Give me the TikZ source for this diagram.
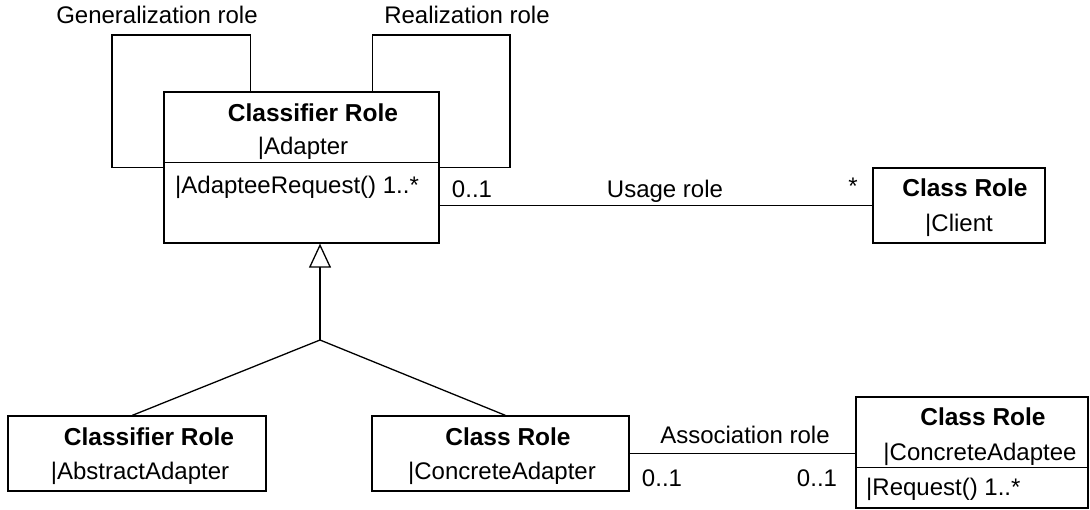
\documentclass[tikz,border=0pt]{standalone}
\usepackage{fontspec}
\setmainfont{Liberation Sans}
\usetikzlibrary{arrows.meta}
\tikzset{
  umlbox/.style={draw, line width=1.3pt, rectangle, inner sep=0pt},
  txt/.style={inner sep=0pt, anchor=mid, yshift=-3pt, font=\fontsize{24}{26}\selectfont},
  btxt/.style={inner sep=0pt, anchor=mid, yshift=-3pt, font=\fontsize{24.5}{26}\selectfont\bfseries},
  ltxt/.style={inner sep=0pt, anchor=mid west, yshift=-3pt, font=\fontsize{24}{26}\selectfont},
  conn/.style={line width=1.3pt},
}
\begin{document}
\begin{tikzpicture}[x=1pt,y=-1pt]
\useasboundingbox (0,0) rectangle (1090,510);
% boxes
\node[umlbox, minimum width=275pt, minimum height=151pt] (adapter) at (301.5,167.5) {};
\node[umlbox, minimum width=172pt, minimum height=75pt] (client) at (959,205.5) {};
\node[umlbox, minimum width=258pt, minimum height=75pt] (abstract) at (137,453.5) {};
\node[umlbox, minimum width=257pt, minimum height=75pt] (concad) at (500.5,453.5) {};
\node[umlbox, minimum width=232pt, minimum height=111pt] (adaptee) at (972,452.5) {};
% dividers
\draw[conn] ([yshift=-71pt]adapter.north west) -- ([yshift=-71pt]adapter.north east);
\draw[conn] ([yshift=-71pt]adaptee.north west) -- ([yshift=-71pt]adaptee.north east);
% box texts
\node[btxt] (t1) at (313,116) {Classifier Role};
\node[txt] (t2) at (303,149) {|Adapter};
\node[ltxt] (t3) at (175,188) {|AdapteeRequest() 1..*};
\node[btxt] (t4) at (965,191) {Class Role};
\node[txt] (t5) at (959,226) {|Client};
\node[btxt] (t6) at (149,440) {Classifier Role};
\node[txt] (t7) at (140,474) {|AbstractAdapter};
\node[btxt] (t8) at (508,440) {Class Role};
\node[txt] (t9) at (502,474) {|ConcreteAdapter};
\node[btxt] (t10) at (983,420) {Class Role};
\node[txt] (t11) at (980,455) {|ConcreteAdaptee};
\node[ltxt] (t12) at (866,490) {|Request() 1..*};
% self loops
\coordinate (gtl) at (112,35);
\coordinate (rtr) at (510,35);
\draw[conn] ([xshift=87pt]adapter.north west) |- (gtl) |- (adapter.west);
\draw[conn] ([xshift=-67pt]adapter.north east) |- (rtr) |- (adapter.east);
\node[txt] (genl) at (157,18) {Generalization role};
\node[txt] (reall) at (467,18) {Realization role};
% usage
\draw[conn] (adapter.east |- client.west) -- (client.west);
\node[txt] (m1) at (472,192) {0..1};
\node[txt] (usel) at (665,192) {Usage role};
\node[txt] (m2) at (853,189) {*};
% generalization
\coordinate (j) at (320,340);
\draw[conn, -{Triangle[open, fill=white, length=24pt, width=22pt]}] (j) -- (adapter.south -| j);
\draw[conn] (j) -- ([xshift=125pt]abstract.north west);
\draw[conn] (j) -- ([xshift=134pt]concad.north west);
% association
\draw[conn] (concad.east) -- (adaptee.west |- concad.east);
\node[txt] (assl) at (745,438) {Association role};
\node[txt] (m3) at (662,481) {0..1};
\node[txt] (m4) at (817,481) {0..1};
\end{tikzpicture}
\end{document}
